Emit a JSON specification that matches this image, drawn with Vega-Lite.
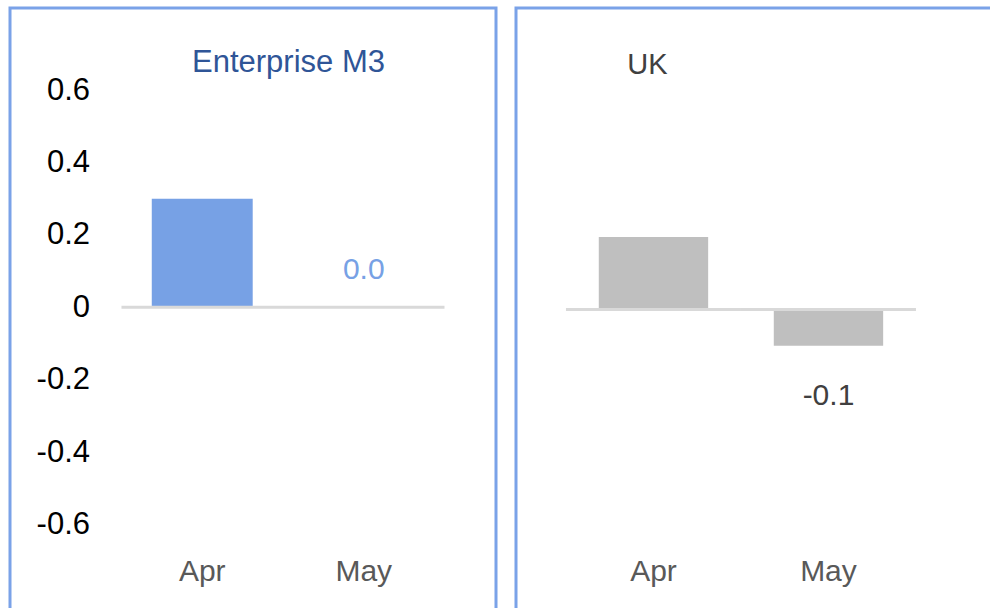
{
  "$schema": "https://vega.github.io/schema/vega-lite/v6.json",
  "background": "white",
  "padding": {"left": 8, "top": 6, "right": 0, "bottom": 0},
  "spacing": 16,
  "config": {
    "font": "Liberation Sans",
    "view": {"stroke": "#7aa2e8", "strokeWidth": 3},
    "axis": {"grid": false, "ticks": false, "domain": false, "title": null}
  },
  "datasets": {
    "em3": [
      {"month": "Apr", "value": 0.3},
      {"month": "May", "value": 0.0, "label": "0.0"}
    ],
    "uk": [
      {"month": "Apr", "value": 0.2},
      {"month": "May", "value": -0.1, "label": "-0.1"}
    ],
    "titles": [
      {"panel": "em3", "name": "Enterprise M3"},
      {"panel": "uk", "name": "UK"}
    ]
  },
  "hconcat": [
    {
      "width": 486,
      "height": 600,
      "view": {"stroke": "#7aa2e8", "strokeWidth": 3, "strokeDash": [1086, 486, 600]},
      "layer": [
        {"data": {"name": "em3"},
         "mark": {"type": "bar", "color": "#77a1e5", "width": {"band": 0.625}},
         "encoding": {
           "x": {"field": "month", "type": "nominal", "sort": ["Apr", "May"],
                 "scale": {"paddingInner": 0, "paddingOuter": 0.5046, "align": 0.684},
                 "axis": {"orient": "bottom", "offset": -27.5, "labelPadding": 0, "labelBaseline": "alphabetic", "labelAngle": 0, "labelFontSize": 30, "labelColor": "#595959"}},
           "y": {"field": "value", "type": "quantitative",
                 "scale": {"domain": [-0.8308, 0.8267], "nice": false, "zero": false},
                 "axis": {"orient": "left", "offset": -79.5, "labelPadding": 0, "values": [-0.6, -0.4, -0.2, 0, 0.2, 0.4, 0.6], "labelFontSize": 31, "labelColor": "#000000", "labelExpr": "datum.value == 0 ? '0' : (datum.value < 0 ? '-' : '') + format(abs(datum.value), '.1f')"}}
         }},
        {"data": {"name": "em3"},
         "mark": {"type": "rect", "fill": null, "stroke": "#d9d9d9", "strokeWidth": 3},
         "encoding": {"x": {"field": "month", "type": "nominal", "sort": ["Apr", "May"]}, "y": {"datum": 0}, "y2": {"datum": 0}}},
        {"data": {"name": "em3"},
         "transform": [{"filter": "isValid(datum.label)"}],
         "mark": {"type": "text", "baseline": "alphabetic", "dy": -28, "fontSize": 30, "color": "#77a1e5"},
         "encoding": {"x": {"field": "month", "type": "nominal", "sort": ["Apr", "May"]}, "y": {"field": "value", "type": "quantitative"}, "text": {"field": "label"}}},
        {"data": {"name": "titles"},
         "transform": [{"filter": "datum.panel == 'em3'"}],
         "mark": {"type": "text", "baseline": "alphabetic", "align": "center", "dx": 5.5, "fontSize": 31, "color": "#2f5597"},
         "encoding": {"x": {"datum": "May", "type": "nominal", "bandPosition": 0}, "y": {"datum": 0.65, "type": "quantitative"}, "text": {"field": "name", "type": "nominal"}}}
      ]
    },
    {
      "width": 474,
      "height": 600,
      "view": {"stroke": "#7aa2e8", "strokeWidth": 3, "strokeDash": [474, 1074, 600]},
      "layer": [
        {"data": {"name": "uk"},
         "mark": {"type": "bar", "color": "#bfbfbf", "width": {"band": 0.625}},
         "encoding": {
           "x": {"field": "month", "type": "nominal", "sort": ["Apr", "May"],
                 "scale": {"paddingInner": 0, "paddingOuter": 0.3543, "align": 0.403},
                 "axis": {"orient": "bottom", "offset": -27.5, "labelPadding": 0, "labelBaseline": "alphabetic", "labelAngle": 0, "labelFontSize": 30, "labelColor": "#595959"}},
           "y": {"field": "value", "type": "quantitative",
                 "scale": {"domain": [-0.8246, 0.8329], "nice": false, "zero": false},
                 "axis": null}
         }},
        {"data": {"name": "uk"},
         "mark": {"type": "rect", "fill": null, "stroke": "#d9d9d9", "strokeWidth": 3},
         "encoding": {"x": {"field": "month", "type": "nominal", "sort": ["Apr", "May"]}, "y": {"datum": 0}, "y2": {"datum": 0}}},
        {"data": {"name": "uk"},
         "transform": [{"filter": "isValid(datum.label)"}],
         "mark": {"type": "text", "baseline": "alphabetic", "dy": 59, "fontSize": 30, "color": "#404040"},
         "encoding": {"x": {"field": "month", "type": "nominal", "sort": ["Apr", "May"]}, "y": {"field": "value", "type": "quantitative"}, "text": {"field": "label"}}},
        {"data": {"name": "titles"},
         "transform": [{"filter": "datum.panel == 'uk'"}],
         "mark": {"type": "text", "baseline": "alphabetic", "align": "center", "dx": -6, "fontSize": 29, "color": "#404040"},
         "encoding": {"x": {"datum": "Apr", "type": "nominal"}, "y": {"datum": 0.65, "type": "quantitative"}, "text": {"field": "name", "type": "nominal"}}}
      ]
    }
  ]
}
